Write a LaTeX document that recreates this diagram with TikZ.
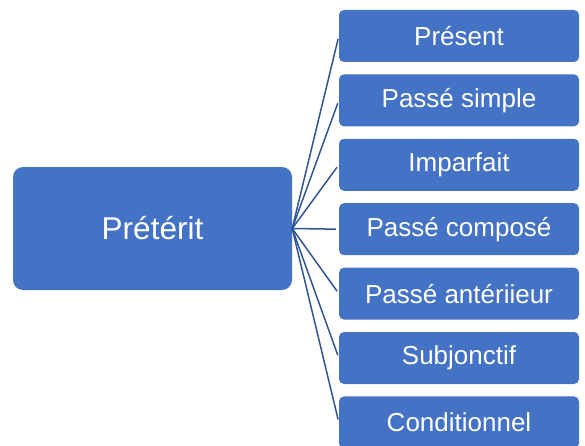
\documentclass[tikz,border=0pt]{standalone}
\usepackage{fontspec}
\setmainfont{Liberation Sans}
\usetikzlibrary{positioning}
\definecolor{boxblue}{HTML}{4472C4}
\definecolor{lineblue}{HTML}{2F5597}

\begin{document}
\begin{tikzpicture}[x=1pt, y=1pt, node distance = 12pt and 20pt]
\tikzstyle{main} = [rectangle, fill = boxblue, text = white, rounded corners = 10pt, minimum width = 279pt, minimum height = 123pt, font = \fontsize{31.5}{36}\selectfont]
\tikzstyle{tense} = [rectangle, fill = boxblue, text = white, rounded corners = 5pt, minimum width = 240pt, minimum height = 52pt, inner sep = 0pt, font = \fontsize{26}{30}\selectfont]
\tikzstyle{connect} = [lineblue, line width = 1.5pt, shorten > = 3pt]
  \useasboundingbox (0,0) rectangle (585,445);
  \node[main] (pret) at (152.5,216.5) {Prétérit};
  \node[tense] (pres) at (459,409) {Présent};
  \node[tense, below=of pres] (psimple) {Passé simple};
  \node[tense, below=of psimple] (imp) {Imparfait};
  \node[tense, below=of imp] (pcomp) {Passé composé};
  \node[tense, below=of pcomp] (pant) {Passé antériieur};
  \node[tense, below=of pant] (subj) {Subjonctif};
  \node[tense, below=of subj] (cond) {Conditionnel};
  \foreach \t in {pres, psimple, imp, pcomp, pant, subj, cond}
    \draw[connect] (pret.east) -- (\t.west);
\end{tikzpicture}
\end{document}
